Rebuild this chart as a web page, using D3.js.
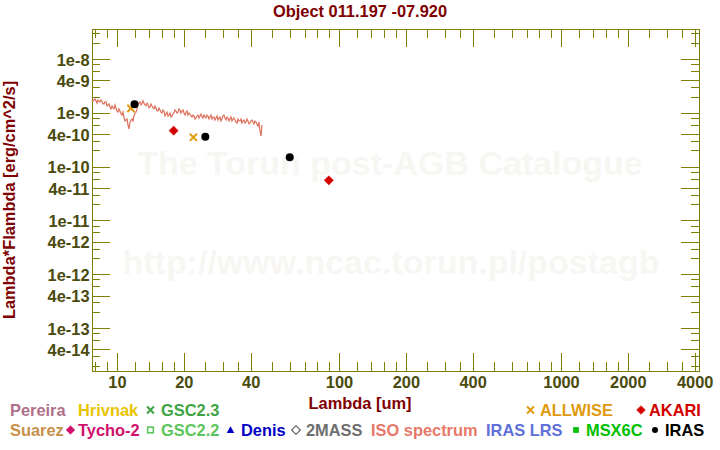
<!DOCTYPE html>
<html><head><meta charset="utf-8">
<script src="https://cdn.jsdelivr.net/npm/d3@7"></script>
<style>
html,body{margin:0;padding:0;background:#fff;}
svg{display:block;font-family:"Liberation Sans",Arial,sans-serif;font-weight:bold;}
</style></head>
<body>
<svg id="c" width="720" height="450"></svg>
<script>
// ---------- data ----------
const titleText = "Object 011.197 -07.920";
const xTitle = "Lambda [um]";
const yTitle = "Lambda*Flambda [erg/cm^2/s]";

const xMajorTicks = [10, 20, 40, 100, 200, 400, 1000, 2000, 4000];
const xMinorTicks = [8, 9, 12, 14, 16, 18, 25, 30, 35, 50, 60, 70, 80, 90,
  120, 140, 160, 180, 250, 300, 350, 500, 600, 700, 800, 900,
  1200, 1400, 1600, 1800, 2500, 3000, 3500];
const yMajorTicks = [1e-8, 4e-9, 1e-9, 4e-10, 1e-10, 4e-11, 1e-11, 4e-12, 1e-12, 4e-13, 1e-13, 4e-14];
const yMajorLabels = ["1e-8","4e-9","1e-9","4e-10","1e-10","4e-11","1e-11","4e-12","1e-12","4e-13","1e-13","4e-14"];
const yMinorTicks = [3e-8, 2e-8, 8e-9, 6e-9, 3e-9, 2e-9, 8e-10, 6e-10, 3e-10, 2e-10,
  8e-11, 6e-11, 3e-11, 2e-11, 8e-12, 6e-12, 3e-12, 2e-12, 8e-13, 6e-13, 3e-13, 2e-13,
  8e-14, 6e-14, 3e-14, 2e-14];

// ISO spectrum (wavelength um, lambda*F_lambda erg/cm2/s)
const isoWave = [7.72,7.80,7.88,7.96,8.05,8.13,8.21,8.30,8.39,8.47,8.56,8.65,8.74,8.83,8.93,9.02,
  9.11,9.21,9.30,9.40,9.50,9.60,9.70,9.80,9.90,10.00,10.11,10.21,10.32,10.43,10.53,10.65,
  10.76,10.87,10.98,11.10,11.21,11.33,11.45,11.57,11.69,11.81,11.93,12.06,12.18,12.31,12.44,12.57,
  12.70,12.83,12.96,13.10,13.23,13.37,13.51,13.65,13.79,13.94,14.08,14.23,14.38,14.53,14.68,14.84,
  14.99,15.15,15.30,15.47,15.62,15.79,15.95,16.12,16.28,16.46,16.63,16.80,16.98,17.16,17.33,17.52,
  17.69,17.88,18.07,18.26,18.45,18.64,18.83,19.03,19.23,19.43,19.63,19.84,20.04,20.25,20.46,20.68,
  20.89,21.11,21.33,21.55,21.78,22.01,22.23,22.47,22.70,22.94,23.17,23.42,23.65,23.91,24.15,24.40,
  24.66,24.91,25.17,25.44,25.70,25.97,26.24,26.51,26.79,27.07,27.35,27.64,27.93,28.22,28.51,28.81,
  29.11,29.41,29.72,30.03,30.34,30.66,30.98,31.30,31.63,31.96,32.28,32.62,32.96,33.31,33.65,34.00,
  34.36,34.72,35.08,35.44,35.81,36.19,36.56,36.94,37.33,37.72,38.11,38.51,38.91,39.32,39.73,40.14,
  40.56,40.98,41.41,41.84,42.28,42.72,43.17,43.62,44.07,44.53,45.00];
const isoFlux = [1.73e-9,1.66e-9,1.73e-9,1.81e-9,1.66e-9,1.52e-9,1.73e-9,1.66e-9,1.59e-9,1.73e-9,1.66e-9,1.46e-9,1.46e-9,1.59e-9,1.59e-9,1.34e-9,
  1.40e-9,1.46e-9,1.28e-9,1.18e-9,1.34e-9,1.23e-9,1.18e-9,1.40e-9,1.23e-9,1.08e-9,1.03e-9,1.18e-9,1.08e-9,9.49e-10,9.09e-10,1.03e-9,
  8.00e-10,7.04e-10,7.34e-10,7.66e-10,5.93e-10,5.00e-10,6.74e-10,7.34e-10,7.66e-10,7.04e-10,8.71e-10,9.90e-10,1.03e-9,1.18e-9,1.46e-9,1.52e-9,
  1.59e-9,1.40e-9,1.46e-9,1.66e-9,1.52e-9,1.40e-9,1.34e-9,1.52e-9,1.46e-9,1.23e-9,1.28e-9,1.46e-9,1.34e-9,1.23e-9,1.18e-9,1.34e-9,
  1.23e-9,1.08e-9,1.08e-9,1.23e-9,1.13e-9,1.03e-9,9.90e-10,1.13e-9,1.08e-9,8.71e-10,9.49e-10,1.03e-9,8.71e-10,9.09e-10,9.90e-10,8.35e-10,
  8.71e-10,9.49e-10,9.90e-10,1.13e-9,1.08e-9,9.90e-10,1.03e-9,1.18e-9,1.13e-9,9.90e-10,1.08e-9,1.13e-9,9.90e-10,9.09e-10,1.03e-9,1.08e-9,
  9.09e-10,9.90e-10,9.49e-10,8.71e-10,8.35e-10,9.09e-10,8.71e-10,7.66e-10,8.00e-10,8.71e-10,9.09e-10,8.00e-10,8.71e-10,9.49e-10,8.35e-10,8.00e-10,
  9.09e-10,8.35e-10,8.00e-10,9.09e-10,8.71e-10,7.66e-10,8.35e-10,9.09e-10,7.66e-10,8.35e-10,8.35e-10,7.34e-10,8.00e-10,8.71e-10,7.34e-10,8.00e-10,
  8.35e-10,7.04e-10,7.66e-10,8.71e-10,9.09e-10,8.00e-10,7.34e-10,8.35e-10,8.00e-10,7.04e-10,7.66e-10,8.35e-10,7.04e-10,7.66e-10,8.00e-10,7.34e-10,
  6.74e-10,6.46e-10,7.66e-10,7.04e-10,7.04e-10,7.66e-10,6.46e-10,7.04e-10,7.34e-10,6.46e-10,6.74e-10,7.66e-10,7.04e-10,6.19e-10,6.46e-10,7.04e-10,
  7.34e-10,6.74e-10,6.19e-10,7.04e-10,6.74e-10,6.19e-10,5.68e-10,6.74e-10,4.59e-10,3.72e-10,5.93e-10];

const irasWave = [12, 25, 60];
const irasFlux = [1.44e-9, 3.6e-10, 1.49e-10];
const allwiseWave = [11.56, 22.09];
const allwiseFlux = [1.21e-9, 3.51e-10];
const akariWave = [18, 90];
const akariFlux = [4.65e-10, 5.56e-11];

// legend
const legendNames = ["Pereira","Hrivnak","GSC2.3","ALLWISE","AKARI",
  "Suarez","Tycho-2","GSC2.2","Denis","2MASS","ISO spectrum","IRAS LRS","MSX6C","IRAS"];
const legendColors = ["#b0708a","#e8c400","#3fa445","#e09a10","#d40000",
  "#c8904a","#d0106c","#5cc65c","#0000c8","#6e6e6e","#e8786a","#6070d8","#00c000","#000000"];
const legendSymbols = [null,null,"times","times","diamond",
  null,"diamond","square-open","triangle","diamond-open",null,null,"square","circle"];
const legendRow = [0,0,0,0,0,1,1,1,1,1,1,1,1,1];
const legendTextX = [10,78,161,540,649,10,78,161,241,306,371,486,586,665];
const legendSymX = [null,null,150.5,530.5,641,null,70.5,150.5,230.5,296,null,null,576,655];

// ---------- chart ----------
const svg = d3.select("#c");
const L = 92, R = 699, T = 29, B = 371;
const FS = 16.4;
const axisColor = "#808000";
const labelColor = "#4a4a0e";
const titleColor = "#800000";

const x = d3.scaleLog().domain([7.72, 4183]).range([L, R]);
const y = d3.scaleLog().domain([3.61e-8, 1.59e-14]).range([T, B]);

// watermark
svg.append("text").attr("x", 390).attr("y", 175).attr("text-anchor","middle")
  .attr("font-size", 34).attr("fill", "#f8f6f3").text("The Torun post-AGB Catalogue");
svg.append("text").attr("x", 391).attr("y", 274).attr("text-anchor","middle")
  .attr("font-size", 34).attr("fill", "#f8f6f3").text("http://www.ncac.torun.pl/postagb");

// title
svg.append("text").attr("x", 360).attr("y", 17).attr("text-anchor","middle")
  .attr("font-size", FS).attr("fill", titleColor).text(titleText);

function styleAxis(g){
  g.select(".domain").remove();
  g.selectAll("line").attr("stroke", axisColor).attr("shape-rendering","crispEdges");
  g.selectAll("text").attr("fill", labelColor).attr("font-size", FS)
    .attr("font-family", '"Liberation Sans",Arial,sans-serif').attr("font-weight","bold");
}
// bottom
svg.append("g").attr("transform", `translate(0,${B})`)
  .call(d3.axisBottom(x).tickValues(xMajorTicks).tickFormat(d3.format("d")).tickSizeInner(-18).tickSizeOuter(0).tickPadding(5))
  .call(styleAxis);
svg.append("g").attr("transform", `translate(0,${B})`)
  .call(d3.axisBottom(x).tickValues(xMinorTicks).tickFormat("").tickSizeInner(-9).tickSizeOuter(0))
  .call(styleAxis);
// top
svg.append("g").attr("transform", `translate(0,${T})`)
  .call(d3.axisTop(x).tickValues(xMajorTicks).tickFormat("").tickSizeInner(-18).tickSizeOuter(0))
  .call(styleAxis);
svg.append("g").attr("transform", `translate(0,${T})`)
  .call(d3.axisTop(x).tickValues(xMinorTicks).tickFormat("").tickSizeInner(-9).tickSizeOuter(0))
  .call(styleAxis);
// left
svg.append("g").attr("transform", `translate(${L},0)`)
  .call(d3.axisLeft(y).tickValues(yMajorTicks).tickFormat((d,i)=>yMajorLabels[i]).tickSizeInner(-18).tickSizeOuter(0).tickPadding(2.5))
  .call(styleAxis)
  .selectAll("text").attr("dy","0.37em");
svg.append("g").attr("transform", `translate(${L},0)`)
  .call(d3.axisLeft(y).tickValues(yMinorTicks).tickFormat("").tickSizeInner(-8).tickSizeOuter(0))
  .call(styleAxis);
// right
svg.append("g").attr("transform", `translate(${R},0)`)
  .call(d3.axisRight(y).tickValues(yMajorTicks).tickFormat("").tickSizeInner(-18).tickSizeOuter(0))
  .call(styleAxis);
svg.append("g").attr("transform", `translate(${R},0)`)
  .call(d3.axisRight(y).tickValues(yMinorTicks).tickFormat("").tickSizeInner(-8).tickSizeOuter(0))
  .call(styleAxis);
// frame
svg.append("rect").attr("x", L+0.5).attr("y", T+0.5).attr("width", R-L).attr("height", B-T)
  .attr("fill","none").attr("stroke", axisColor).attr("stroke-width",1).attr("shape-rendering","crispEdges");

// axis titles
svg.append("text").attr("x", 360).attr("y", 409).attr("text-anchor","middle")
  .attr("font-size", FS).attr("fill", titleColor).text(xTitle);
svg.append("text").attr("transform", `translate(15,${(T+B)/2}) rotate(-90)`).attr("text-anchor","middle")
  .attr("font-size", FS).attr("fill", titleColor).text(yTitle);

// ISO spectrum
const iso = isoWave.map((w,i)=>[w, isoFlux[i]]);
svg.append("path").datum(iso)
  .attr("d", d3.line().x(d=>x(d[0])).y(d=>y(d[1])))
  .attr("fill","none").attr("stroke", "#e0705c").attr("stroke-width", 1.2);

// markers
function drawSymbol(g, type, cx, cy, color, scale){
  const s = scale || 1;
  if (type === "circle") {
    g.append("circle").attr("cx",cx).attr("cy",cy).attr("r",4*s).attr("fill",color);
  } else if (type === "diamond" || type === "diamond-open") {
    const h = 4.6*s;
    g.append("path").attr("d", `M${cx},${cy-h}L${cx+h},${cy}L${cx},${cy+h}L${cx-h},${cy}Z`)
      .attr("fill", type==="diamond"?color:"none").attr("stroke", color).attr("stroke-width", type==="diamond"?0.5:1.3);
  } else if (type === "times") {
    const h = 3.6*s;
    g.append("path").attr("d", `M${cx-h},${cy-h}L${cx+h},${cy+h}M${cx-h},${cy+h}L${cx+h},${cy-h}`)
      .attr("stroke", color).attr("stroke-width", 2).attr("fill","none");
  } else if (type === "square" || type === "square-open") {
    const h = 3*s;
    g.append("rect").attr("x",cx-h).attr("y",cy-h).attr("width",2*h).attr("height",2*h)
      .attr("fill", type==="square"?color:"none").attr("stroke",color).attr("stroke-width", type==="square"?0:1.6);
  } else if (type === "triangle") {
    const h = 4*s;
    g.append("path").attr("d", `M${cx},${cy-h}L${cx+h},${cy+h*0.8}L${cx-h},${cy+h*0.8}Z`).attr("fill",color);
  }
}
const gm = svg.append("g");
akariWave.forEach((w,i)=>drawSymbol(gm,"diamond",x(w),y(akariFlux[i]),"#d40000",1));
allwiseWave.forEach((w,i)=>drawSymbol(gm,"times",x(w),y(allwiseFlux[i]),"#e09a10",1));
irasWave.forEach((w,i)=>drawSymbol(gm,"circle",x(w),y(irasFlux[i]),"#000000",1));

// legend
const rowY = [416, 436];
const lg = svg.append("g");
legendNames.forEach((n,i)=>{
  lg.append("text").attr("x", legendTextX[i]).attr("y", rowY[legendRow[i]])
    .attr("font-size", FS).attr("fill", legendColors[i]).text(n);
  if (legendSymbols[i]) {
    const sc = legendSymbols[i] === "circle" ? 0.75 : 0.95;
    drawSymbol(lg, legendSymbols[i], legendSymX[i], rowY[legendRow[i]]-6, legendColors[i], sc);
  }
});
</script>
</body></html>
